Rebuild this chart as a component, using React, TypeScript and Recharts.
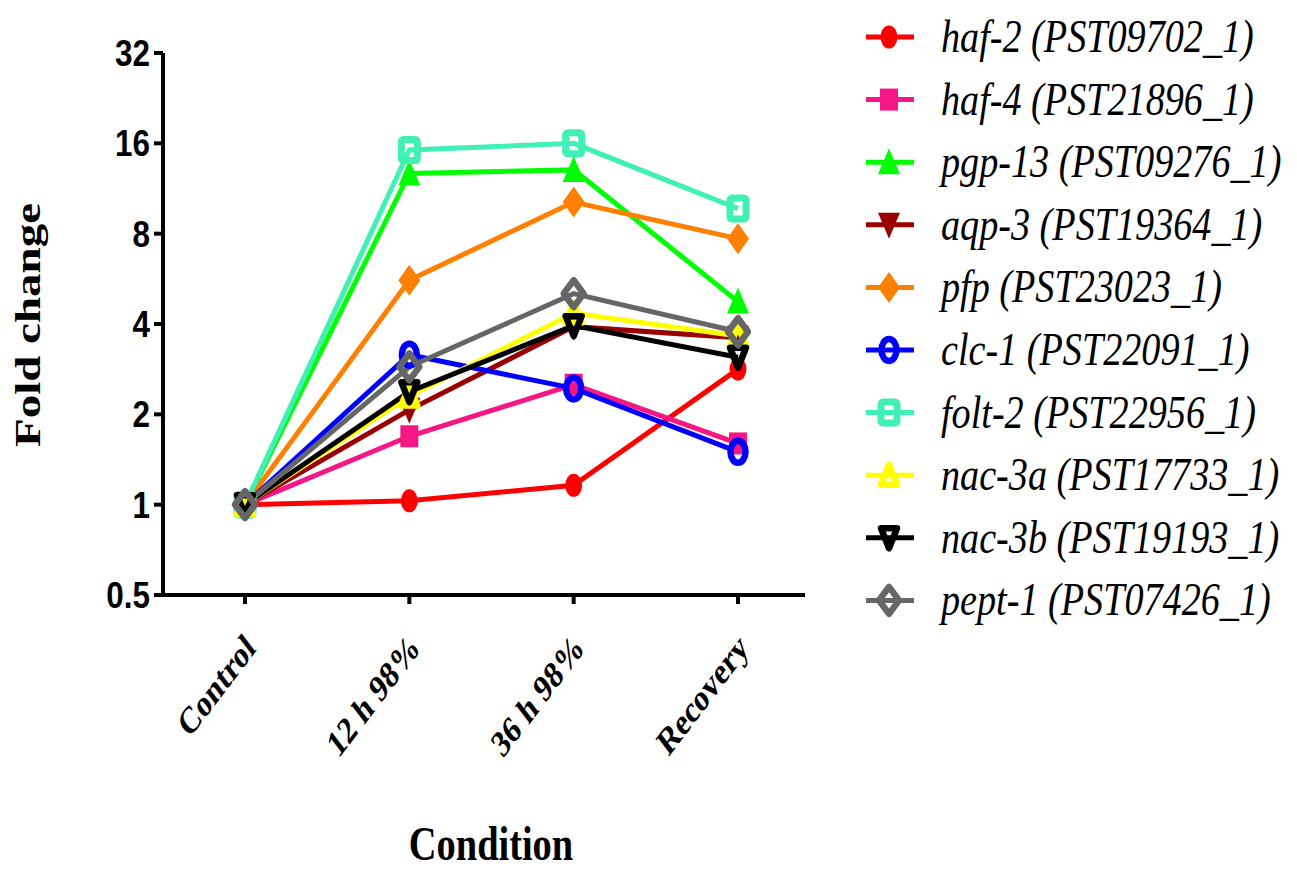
import React from 'react';
import { LineChart, Line, XAxis, YAxis, Legend } from 'recharts';

const conditions = ['Control', '12 h 98%', '36 h 98%', 'Recovery'];

const haf2 = [1, 1.03, 1.16, 2.83];
const haf4 = [1, 1.69, 2.51, 1.6];
const pgp13 = [1, 12.7, 13.05, 4.75];
const aqp3 = [1, 2.07, 3.92, 3.6];
const pfp = [1, 5.6, 10.2, 7.7];
const clc1 = [1, 3.16, 2.44, 1.5];
const folt2 = [1, 15.2, 16.0, 9.7];
const nac3a = [1, 2.3, 4.35, 3.65];
const nac3b = [1, 2.38, 3.95, 3.1];
const pept1 = [1, 2.88, 5.05, 3.77];

const seriesValues = [haf2, haf4, pgp13, aqp3, pfp, clc1, folt2, nac3a, nac3b, pept1];
const seriesNames = [
  'haf-2 (PST09702_1)',
  'haf-4 (PST21896_1)',
  'pgp-13 (PST09276_1)',
  'aqp-3 (PST19364_1)',
  'pfp (PST23023_1)',
  'clc-1 (PST22091_1)',
  'folt-2 (PST22956_1)',
  'nac-3a (PST17733_1)',
  'nac-3b (PST19193_1)',
  'pept-1 (PST07426_1)',
];
const seriesColors = [
  '#FF0000',
  '#F71784',
  '#00FF00',
  '#990000',
  '#FF8000',
  '#0000FF',
  '#40F0B4',
  '#FFFF00',
  '#000000',
  '#666666',
];
const seriesMarkers = [
  'circle',
  'square',
  'triangle',
  'triangleDown',
  'diamond',
  'openCircle',
  'openSquare',
  'openTriangle',
  'openTriangleDown',
  'openDiamond',
];
const yTicks = [0.5, 1, 2, 4, 8, 16, 32];

const data = conditions.map((c, i) => {
  const row: Record<string, any> = { condition: c };
  seriesValues.forEach((vals, s) => {
    row['s' + s] = vals[i];
  });
  return row;
});

function Marker({ kind, color, cx, cy }: { kind: string; color: string; cx: number; cy: number }) {
  switch (kind) {
    case 'circle':
      return <ellipse cx={cx} cy={cy} rx={8.5} ry={11.5} fill={color} />;
    case 'square':
      return <rect x={cx - 9} y={cy - 11} width={18} height={22} fill={color} />;
    case 'triangle':
      return <polygon points={`${cx},${cy - 14} ${cx - 11},${cy + 12} ${cx + 11},${cy + 12}`} fill={color} />;
    case 'triangleDown':
      return <polygon points={`${cx},${cy + 14} ${cx - 11},${cy - 12} ${cx + 11},${cy - 12}`} fill={color} />;
    case 'diamond':
      return <polygon points={`${cx},${cy - 15.5} ${cx + 11},${cy} ${cx},${cy + 15.5} ${cx - 11},${cy}`} fill={color} />;
    case 'openCircle':
      return <ellipse cx={cx} cy={cy} rx={7.5} ry={11} fill="none" stroke={color} strokeWidth={6.5} />;
    case 'openSquare':
      return (
        <rect x={cx - 8} y={cy - 10.5} width={16} height={21} rx={2} fill="none" stroke={color} strokeWidth={7} />
      );
    case 'openTriangle':
      return (
        <polygon
          points={`${cx},${cy - 10.5} ${cx - 8},${cy + 9.5} ${cx + 8},${cy + 9.5}`}
          fill="none"
          stroke={color}
          strokeWidth={6.5}
          strokeLinejoin="round"
        />
      );
    case 'openTriangleDown':
      return (
        <polygon
          points={`${cx},${cy + 10.5} ${cx - 8},${cy - 9.5} ${cx + 8},${cy - 9.5}`}
          fill="none"
          stroke={color}
          strokeWidth={6.5}
          strokeLinejoin="round"
        />
      );
    case 'openDiamond':
      return (
        <polygon
          points={`${cx},${cy - 13.5} ${cx + 10},${cy} ${cx},${cy + 13.5} ${cx - 10},${cy}`}
          fill="none"
          stroke={color}
          strokeWidth={6.5}
          strokeLinejoin="round"
        />
      );
    default:
      return null;
  }
}

const makeDot = (s: number) => (props: any) => {
  const { cx, cy, index } = props;
  if (cx == null || cy == null) return <g key={`d${s}-${index}`} />;
  return (
    <g key={`d${s}-${index}`}>
      <Marker kind={seriesMarkers[s]} color={seriesColors[s]} cx={cx} cy={cy} />
    </g>
  );
};

const XTick = (props: any) => {
  const { x, y, payload } = props;
  return (
    <text
      transform={`translate(${x + 12},${y + 44}) scale(0.76,1) rotate(-45)`}
      textAnchor="end"
      fontFamily="'Liberation Serif', 'Times New Roman', serif"
      fontWeight="bold"
      fontSize={38}
      fill="#000"
    >
      {payload.value}
    </text>
  );
};

const YTick = (props: any) => {
  const { x, y, payload } = props;
  return (
    <text
      transform={`translate(${x},${y + 13}) scale(0.85,1)`}
      textAnchor="end"
      fontFamily="'Liberation Sans', Arial, sans-serif"
      fontWeight="bold"
      fontSize={37}
      fill="#000"
    >
      {String(payload.value)}
    </text>
  );
};

const XTitle = (props: any) => {
  const vb = props.viewBox || { x: 163, width: 642, y: 595 };
  return (
    <text
      transform={`translate(${vb.x + vb.width / 2 + 7},860) scale(0.8,1)`}
      textAnchor="middle"
      fontFamily="'Liberation Serif', 'Times New Roman', serif"
      fontWeight="bold"
      fontSize={48}
      fill="#000"
    >
      Condition
    </text>
  );
};

const YTitle = (props: any) => {
  const vb = props.viewBox || { y: 53, height: 542 };
  return (
    <text
      transform={`translate(40,${vb.y + vb.height / 2 + 1}) scale(0.77,1) rotate(-90)`}
      textAnchor="middle"
      fontFamily="'Liberation Serif', 'Times New Roman', serif"
      fontWeight="bold"
      fontSize={47}
      fill="#000"
    >
      Fold change
    </text>
  );
};

const LegendBox = () => (
  <svg width={457} height={640} style={{ display: 'block' }}>
    {seriesNames.map((name, i) => {
      const y = 37 + i * 62.6;
      return (
        <g key={name}>
          <line x1={26} x2={74} y1={y} y2={y} stroke={seriesColors[i]} strokeWidth={5} />
          <Marker kind={seriesMarkers[i]} color={seriesColors[i]} cx={49} cy={y} />
          <text
            transform={`translate(101,${y + 15}) scale(0.83,1)`}
            fontFamily="'Liberation Serif', 'Times New Roman', serif"
            fontStyle="italic"
            fontSize={46}
            fill="#000"
          >
            {name}
          </text>
        </g>
      );
    })}
  </svg>
);

export default function App() {
  return (
    <div style={{ position: 'absolute', left: 0, top: 0, width: 1297, height: 871, background: '#fff' }}>
      <LineChart
        width={1297}
        height={871}
        data={data}
        margin={{ top: 53, right: 492, bottom: 0, left: 0 }}
      >
        <XAxis
          dataKey="condition"
          type="category"
          padding={{ left: 82, right: 67 }}
          height={276}
          tickSize={9}
          tickMargin={2}
          axisLine={{ stroke: '#000', strokeWidth: 4 }}
          tickLine={{ stroke: '#000', strokeWidth: 4 }}
          tick={<XTick />}
          interval={0}
          label={XTitle}
        />
        <YAxis
          scale="log"
          domain={[0.5, 32]}
          ticks={yTicks}
          allowDataOverflow
          width={163}
          tickSize={9}
          tickMargin={4}
          axisLine={{ stroke: '#000', strokeWidth: 4 }}
          tickLine={{ stroke: '#000', strokeWidth: 4 }}
          tick={<YTick />}
          label={YTitle}
        />
        {seriesNames.map((name, s) => (
          <Line
            key={name}
            name={name}
            dataKey={'s' + s}
            stroke={seriesColors[s]}
            strokeWidth={5}
            dot={makeDot(s)}
            activeDot={false}
            isAnimationActive={false}
          />
        ))}
        <Legend
          layout="horizontal"
          verticalAlign="middle"
          align="center"
          wrapperStyle={{ left: 840, top: 0, width: 457, height: 640 }}
          content={() => <LegendBox />}
        />
      </LineChart>
    </div>
  );
}
